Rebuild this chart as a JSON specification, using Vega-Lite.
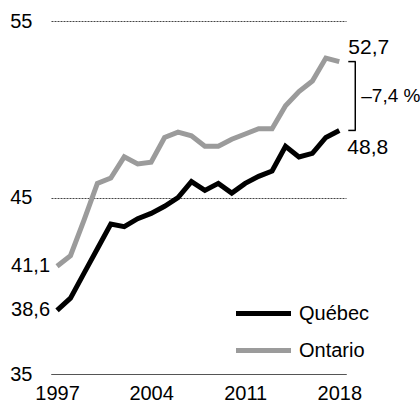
{
  "$schema": "https://vega.github.io/schema/vega-lite/v6.json",
  "autosize": {"type": "none"},
  "width": 295,
  "height": 353,
  "padding": {"left": 51, "top": 21, "right": 74, "bottom": 33},
  "background": "white",
  "config": {"view": {"stroke": null}, "font": "Liberation Sans"},
  "datasets": {
    "series": [
      {"year": 1997, "region": "Québec", "value": 38.6},
      {"year": 1998, "region": "Québec", "value": 39.3},
      {"year": 1999, "region": "Québec", "value": 40.7},
      {"year": 2000, "region": "Québec", "value": 42.1},
      {"year": 2001, "region": "Québec", "value": 43.5},
      {"year": 2002, "region": "Québec", "value": 43.35},
      {"year": 2003, "region": "Québec", "value": 43.8},
      {"year": 2004, "region": "Québec", "value": 44.1},
      {"year": 2005, "region": "Québec", "value": 44.5},
      {"year": 2006, "region": "Québec", "value": 45.0},
      {"year": 2007, "region": "Québec", "value": 45.9},
      {"year": 2008, "region": "Québec", "value": 45.4},
      {"year": 2009, "region": "Québec", "value": 45.8},
      {"year": 2010, "region": "Québec", "value": 45.25},
      {"year": 2011, "region": "Québec", "value": 45.8},
      {"year": 2012, "region": "Québec", "value": 46.2},
      {"year": 2013, "region": "Québec", "value": 46.5},
      {"year": 2014, "region": "Québec", "value": 47.9},
      {"year": 2015, "region": "Québec", "value": 47.3},
      {"year": 2016, "region": "Québec", "value": 47.5},
      {"year": 2017, "region": "Québec", "value": 48.4},
      {"year": 2018, "region": "Québec", "value": 48.8},
      {"year": 1997, "region": "Ontario", "value": 41.1},
      {"year": 1998, "region": "Ontario", "value": 41.7},
      {"year": 1999, "region": "Ontario", "value": 43.7},
      {"year": 2000, "region": "Ontario", "value": 45.8},
      {"year": 2001, "region": "Ontario", "value": 46.1},
      {"year": 2002, "region": "Ontario", "value": 47.3},
      {"year": 2003, "region": "Ontario", "value": 46.9},
      {"year": 2004, "region": "Ontario", "value": 47.0},
      {"year": 2005, "region": "Ontario", "value": 48.4},
      {"year": 2006, "region": "Ontario", "value": 48.7},
      {"year": 2007, "region": "Ontario", "value": 48.5},
      {"year": 2008, "region": "Ontario", "value": 47.9},
      {"year": 2009, "region": "Ontario", "value": 47.9},
      {"year": 2010, "region": "Ontario", "value": 48.3},
      {"year": 2011, "region": "Ontario", "value": 48.6},
      {"year": 2012, "region": "Ontario", "value": 48.9},
      {"year": 2013, "region": "Ontario", "value": 48.9},
      {"year": 2014, "region": "Ontario", "value": 50.2},
      {"year": 2015, "region": "Ontario", "value": 51.0},
      {"year": 2016, "region": "Ontario", "value": 51.6},
      {"year": 2017, "region": "Ontario", "value": 52.9},
      {"year": 2018, "region": "Ontario", "value": 52.7}
    ],
    "labels": [
      {"year": 1997, "value": 41.1, "label": "41,1", "pos": "left"},
      {"year": 1997, "value": 38.6, "label": "38,6", "pos": "left"},
      {"year": 2018, "value": 52.7, "label": "52,7", "pos": "top"},
      {"year": 2018, "value": 48.8, "label": "48,8", "pos": "bottom"},
      {"year": 2018, "value": 50.75, "label": "–7,4 %", "pos": "gap"}
    ],
    "bracket": [
      {"year": 2018, "top": 52.7, "bottom": 48.8}
    ],
    "bracketEnds": [
      {"year": 2018, "value": 52.7},
      {"year": 2018, "value": 48.8}
    ]
  },
  "layer": [
    {
      "data": {"name": "series"},
      "mark": {"type": "line", "strokeWidth": 5},
      "encoding": {
        "x": {
          "field": "year", "type": "quantitative",
          "scale": {"domain": [1996.55, 2018.5], "nice": false, "zero": false},
          "axis": {"values": [1997, 2004, 2011, 2018], "format": "d", "title": null, "ticks": false, "tickSize": 0, "grid": false, "domainColor": "#555555", "domainWidth": 1.2, "labelFontSize": 20, "labelColor": "#000000", "labelPadding": 9, "labelFlush": false, "labelFont": "Liberation Sans", "zindex": 1}
        },
        "y": {
          "field": "value", "type": "quantitative",
          "scale": {"domain": [35, 55], "nice": false, "zero": false},
          "axis": {"values": [35, 45, 55], "title": null, "domain": false, "ticks": false, "grid": true, "gridDash": [2, 1], "gridColor": "#444444", "gridWidth": 1, "labelFontSize": 20, "labelColor": "#000000", "labelPadding": 19, "labelFont": "Liberation Sans"}
        },
        "color": {
          "field": "region", "type": "nominal",
          "scale": {"domain": ["Québec", "Ontario"], "range": ["#000000", "#9b9b9b"]},
          "legend": {"orient": "none", "legendX": 199, "legendY": 279, "title": null, "symbolType": "M-2.5,0H2.5", "symbolSize": 484, "symbolStrokeWidth": 5, "labelFontSize": 20, "labelOffset": 22, "rowPadding": 13, "labelColor": "#000000", "padding": 0, "labelFont": "Liberation Sans"}
        }
      }
    },
    {
      "data": {"name": "labels"},
      "transform": [{"filter": "datum.pos == 'left'"}],
      "mark": {"type": "text", "align": "right", "baseline": "middle", "dx": -7, "fontSize": 20, "font": "Liberation Sans", "color": "#000000"},
      "encoding": {
        "x": {"field": "year", "type": "quantitative"},
        "y": {"field": "value", "type": "quantitative"},
        "text": {"field": "label"}
      }
    },
    {
      "data": {"name": "labels"},
      "transform": [{"filter": "datum.pos == 'top'"}],
      "mark": {"type": "text", "align": "left", "baseline": "middle", "dx": 9, "dy": -14, "fontSize": 21, "font": "Liberation Sans", "color": "#000000"},
      "encoding": {
        "x": {"field": "year", "type": "quantitative"},
        "y": {"field": "value", "type": "quantitative"},
        "text": {"field": "label"}
      }
    },
    {
      "data": {"name": "labels"},
      "transform": [{"filter": "datum.pos == 'bottom'"}],
      "mark": {"type": "text", "align": "left", "baseline": "middle", "dx": 8, "dy": 18, "fontSize": 21, "font": "Liberation Sans", "color": "#000000"},
      "encoding": {
        "x": {"field": "year", "type": "quantitative"},
        "y": {"field": "value", "type": "quantitative"},
        "text": {"field": "label"}
      }
    },
    {
      "data": {"name": "labels"},
      "transform": [{"filter": "datum.pos == 'gap'"}],
      "mark": {"type": "text", "align": "left", "baseline": "middle", "dx": 22, "fontSize": 19, "font": "Liberation Sans", "color": "#000000"},
      "encoding": {
        "x": {"field": "year", "type": "quantitative"},
        "y": {"field": "value", "type": "quantitative"},
        "text": {"field": "label"}
      }
    },
    {
      "data": {"name": "bracket"},
      "mark": {"type": "rule", "xOffset": 16, "strokeWidth": 1.5, "color": "#000000"},
      "encoding": {
        "x": {"field": "year", "type": "quantitative"},
        "y": {"field": "top", "type": "quantitative"},
        "y2": {"field": "bottom"}
      }
    },
    {
      "data": {"name": "bracketEnds"},
      "mark": {"type": "rule", "xOffset": 9, "x2Offset": 16.5, "strokeWidth": 1.5, "color": "#000000"},
      "encoding": {
        "x": {"field": "year", "type": "quantitative"},
        "x2": {"field": "year"},
        "y": {"field": "value", "type": "quantitative"}
      }
    }
  ]
}
